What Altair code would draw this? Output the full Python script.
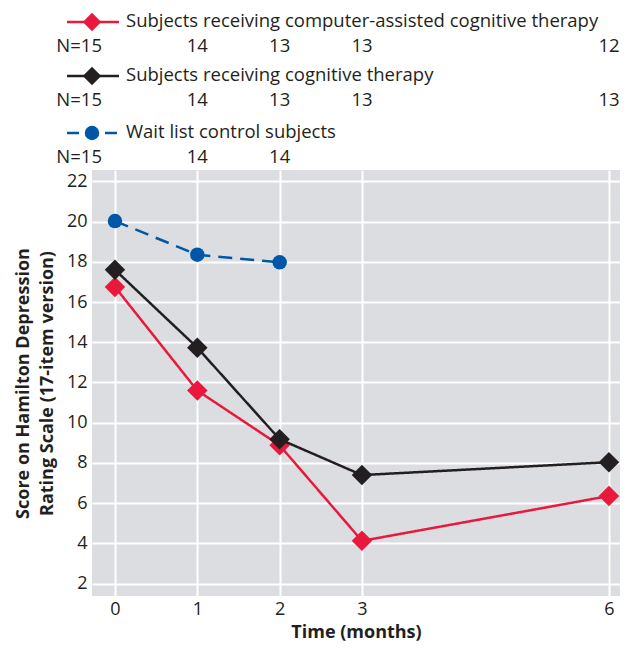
import altair as alt
import pandas as pd

# ---- data ----
times = [0, 1, 2, 3, 6]
cct_scores = [16.75, 11.6, 8.88, 4.13, 6.36]
ct_scores = [17.6, 13.73, 9.18, 7.4, 8.04]
wl_times = [0, 1, 2]
wl_scores = [20.02, 18.35, 17.97]

cct_n = [15, 14, 13, 13, 12]
ct_n = [15, 14, 13, 13, 13]
wl_n = [15, 14, 14]

series_names = [
    "Subjects receiving computer-assisted cognitive therapy",
    "Subjects receiving cognitive therapy",
    "Wait list control subjects",
]
series_colors = ["#e8193c", "#231f20", "#0057a8"]
series_shapes = ["diamond", "diamond", "circle"]
series_dash = [[1, 0], [1, 0], [14, 8]]
legend_dash = [[1, 0], [1, 0], [12, 26]]

y_ticks = [2, 4, 6, 8, 10, 12, 14, 16, 18, 20, 22]
x_ticks = [0, 1, 2, 3, 6]

FONT = "Open Sans"
TXT = "#231f20"
LFS = 18.5

xscale = alt.Scale(domain=[-0.279, 6.134], nice=False, zero=False)
yscale = alt.Scale(domain=[1.39, 22.56], nice=False, zero=False)

x_enc = alt.X(
    "time:Q", scale=xscale,
    axis=alt.Axis(values=x_ticks, title="Time (months)", grid=True, domain=False, ticks=False,
                  labelPadding=4, titlePadding=5, format="d"),
)
y_enc = alt.Y(
    "score:Q", scale=yscale,
    axis=alt.Axis(values=y_ticks, title=["Score on Hamilton Depression", "Rating Scale (17-item version)"],
                  grid=True, domain=False, ticks=False, labelPadding=5, titlePadding=10,
                  titleLineHeight=24),
)

series_data = [
    (times, cct_scores, cct_n),
    (times, ct_scores, ct_n),
    (wl_times, wl_scores, wl_n),
]

# legend offsets (pixels above the plot area)
legend_sym_y = [-148, -94, -37]
legend_txt_y = [-149, -95, -38]
n_rows_y = [-124, -70, -13]

layers = []
for i, (t, s, n) in enumerate(series_data):
    df = pd.DataFrame({"time": t, "score": s})
    col = series_colors[i]
    base = alt.Chart(df).encode(x=x_enc, y=y_enc)
    layers.append(base.mark_line(color=col, strokeWidth=2.5, strokeDash=series_dash[i]))
    layers.append(base.mark_point(shape=series_shapes[i], filled=True, opacity=1, color=col,
                                  size=420 if series_shapes[i] == "diamond" else 210))

for i, (t, s, n) in enumerate(series_data):
    col = series_colors[i]
    one = pd.DataFrame({"k": [0]})
    # legend symbol
    layers.append(alt.Chart(one).mark_rule(color=col, strokeWidth=2.5, strokeDash=legend_dash[i]).encode(
        x=alt.value(-25), x2=alt.value(27), y=alt.value(legend_sym_y[i])))
    layers.append(alt.Chart(one).mark_point(shape=series_shapes[i], filled=True, opacity=1, color=col,
                                            size=340 if series_shapes[i] == "diamond" else 210).encode(
        x=alt.value(0), y=alt.value(legend_sym_y[i])))
    layers.append(alt.Chart(pd.DataFrame({"label": [series_names[i]]})).mark_text(
        align="left", baseline="middle", font=FONT, fontSize=LFS, color=TXT).encode(
        x=alt.value(34), y=alt.value(legend_txt_y[i]), text="label:N"))
    # N rows
    ndf = pd.DataFrame({"time": t, "n": [str(v) for v in n]})
    first = ndf.iloc[:1].assign(n=lambda d: "N=" + d["n"])
    rest = ndf.iloc[1:]
    layers.append(alt.Chart(first).mark_text(align="right", baseline="middle", font=FONT, fontSize=LFS,
                                             color=TXT, dx=-13).encode(
        x=alt.X("time:Q", scale=xscale), y=alt.value(n_rows_y[i]), text="n:N"))
    layers.append(alt.Chart(rest).mark_text(align="center", baseline="middle", font=FONT, fontSize=LFS,
                                            color=TXT).encode(
        x=alt.X("time:Q", scale=xscale), y=alt.value(n_rows_y[i]), text="n:N"))

chart = alt.layer(*layers).properties(
    width=528, height=426,
    autosize=alt.AutoSizeParams(type="none"),
    padding={"left": 84, "top": 162, "right": 0, "bottom": 50},
).configure_view(
    fill="#dcdde0", stroke=None,
).configure_axis(
    gridColor="#ffffff", gridWidth=2, gridOpacity=1,
    labelFont=FONT, labelFontSize=18, labelColor=TXT,
    titleFont=FONT, titleFontSize=18, titleFontWeight="bold", titleColor=TXT,
)

chart.save("out.html", embed_options={"renderer": "svg", "actions": False})
